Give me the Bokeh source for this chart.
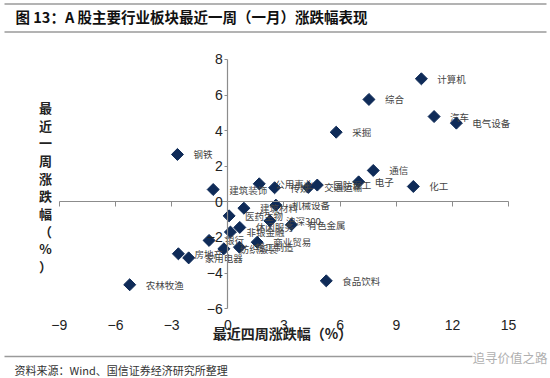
import math
from bokeh.plotting import figure
from bokeh.models import LinearAxis, FixedTicker, Label, Range1d, ColumnDataSource
from bokeh.core.properties import value
from bokeh.embed import file_html
from bokeh.resources import INLINE

# ---- data ----
industries = ["计算机", "综合", "汽车", "电气设备", "采掘", "钢铁", "通信", "化工", "电子",
              "建筑装饰", "公用事业", "传媒", "交通运输", "国防军工", "机械设备", "建筑材料",
              "医药生物", "沪深300", "有色金属", "休闲服务", "非银金融", "银行", "商业贸易",
              "轻工制造", "纺织服装", "房地产", "家用电器", "农林牧渔", "食品饮料"]
four_week_change = [10.34, 7.54, 11.02, 12.21, 5.79, -2.69, 7.77, 9.91, 6.99,
                    -0.78, 1.68, 2.50, 4.30, 4.78, 2.57, 0.86,
                    0.07, 2.25, 3.40, 0.64, 0.14, -1.00, 1.57,
                    0.62, -0.21, -2.64, -2.09, -5.24, 5.26]
one_week_change = [6.91, 5.75, 4.79, 4.42, 3.91, 2.66, 1.76, 0.86, 1.12,
                   0.69, 1.01, 0.79, 0.81, 0.94, -0.19, -0.36,
                   -0.79, -1.07, -1.29, -1.44, -1.70, -2.17, -2.27,
                   -2.55, -2.64, -2.92, -3.15, -4.66, -4.44]
x_ticks = [-9, -6, -3, 0, 3, 6, 9, 12, 15]
y_ticks = [-6, -4, -2, 0, 2, 4, 6, 8]

title_text = "图 13：A 股主要行业板块最近一周（一月）涨跌幅表现"
x_title = "最近四周涨跌幅（%）"
y_title = "最近一周涨跌幅（%）"
source_text = "资料来源：Wind、国信证券经济研究所整理"
watermark = "追寻价值之路"

CJK = "Noto Sans CJK SC"
AX = "#8c8c8c"
NAVY = "#0f2b58"
RULE = "#9a9a9a"

W, H = 550, 378
# frame covers the whole canvas; layout positions are given in canvas pixels
X0_PX, X_UNIT = 227.3, 18.72   # pixel of x=0, pixels per unit
Y0_PX, Y_UNIT = 201.3, 17.8    # pixel of y=0, pixels per unit


def dx(px):
    return (px - X0_PX) / X_UNIT


def dy(py):
    return (Y0_PX - py) / Y_UNIT


src = ColumnDataSource(dict(x=four_week_change, y=one_week_change, name=industries))

p = figure(width=W, height=H, output_backend="svg", toolbar_location=None,
           x_range=Range1d(dx(0), dx(W)), y_range=Range1d(dy(H), dy(0)),
           min_border=0, min_border_left=0, min_border_right=0,
           min_border_top=0, min_border_bottom=0)
p.title.visible = False
p.outline_line_color = None
p.xgrid.visible = False
p.ygrid.visible = False
p.background_fill_color = "white"
p.border_fill_color = "white"

# x axis line through y=0, ticks only
xa = p.xaxis[0]
xa.fixed_location = 0
xa.bounds = (min(x_ticks), max(x_ticks))
xa.ticker = FixedTicker(ticks=x_ticks)
xa.axis_line_color = AX
xa.axis_line_width = 1.2
xa.major_tick_line_color = AX
xa.major_tick_out = 5
xa.major_tick_in = 0
xa.minor_tick_line_color = None
xa.major_label_text_color = None

# x tick labels near the bottom ("low" labels)
xl = LinearAxis(ticker=FixedTicker(ticks=x_ticks), fixed_location=dy(311))
xl.axis_line_color = None
xl.major_tick_line_color = None
xl.minor_tick_line_color = None
xl.major_label_standoff = 2
xl.major_label_text_font = "Liberation Sans"
xl.major_label_text_font_size = "14px"
xl.major_label_text_color = "#222222"
p.add_layout(xl, "below")

# y axis line through x=0 with labels
ya = p.yaxis[0]
ya.fixed_location = 0
ya.bounds = (min(y_ticks), max(y_ticks))
ya.ticker = FixedTicker(ticks=y_ticks)
ya.axis_line_color = AX
ya.axis_line_width = 1.2
ya.major_tick_line_color = AX
ya.major_tick_out = 3
ya.major_tick_in = 0
ya.minor_tick_line_color = None
ya.major_label_standoff = 2
ya.major_label_text_font = "Liberation Sans"
ya.major_label_text_font_size = "14px"
ya.major_label_text_color = "#222222"

p.scatter("x", "y", source=src, marker="square", angle=math.pi / 4, size=8.5,
          fill_color=NAVY, line_color=NAVY)
p.text("x", "y", text="name", source=src, x_offset=16, text_baseline="middle",
       text_align="left", text_font=value(CJK), text_font_size="9.5px", text_color="#444444")

# axis titles
p.add_layout(Label(x=dx(282), y=dy(332), text=x_title, text_align="center", text_baseline="middle",
                   text_font=CJK, text_font_size="14px", text_font_style="bold",
                   text_color="#222222"))
p.add_layout(Label(x=dx(45), y=dy(186.5), text="\n".join(list(y_title)), text_align="center",
                   text_baseline="middle", text_line_height=0.93,
                   text_font=CJK, text_font_size="13px", text_font_style="bold",
                   text_color="#222222"))

# header / footer rules
for ry in (3.5, 31.5, 356):
    p.segment(x0=[dx(4)], y0=[dy(ry)], x1=[dx(546)], y1=[dy(ry)], line_color=RULE, line_width=1.5)

p.add_layout(Label(x=dx(15), y=dy(16), text=title_text, text_align="left", text_baseline="middle",
                   text_font=CJK, text_font_size="14.5px", text_font_style="bold",
                   text_color="#111111"))
p.add_layout(Label(x=dx(14), y=dy(369), text=source_text, text_align="left", text_baseline="middle",
                   text_font=CJK, text_font_size="11px", text_color="#333333"))
p.add_layout(Label(x=dx(472), y=dy(357), text=watermark, text_align="left", text_baseline="middle",
                   text_font=CJK, text_font_size="12.5px", text_color="#b0b0b0",
                   background_fill_color="white"))

open("out.html", "w").write(file_html(p, INLINE))
